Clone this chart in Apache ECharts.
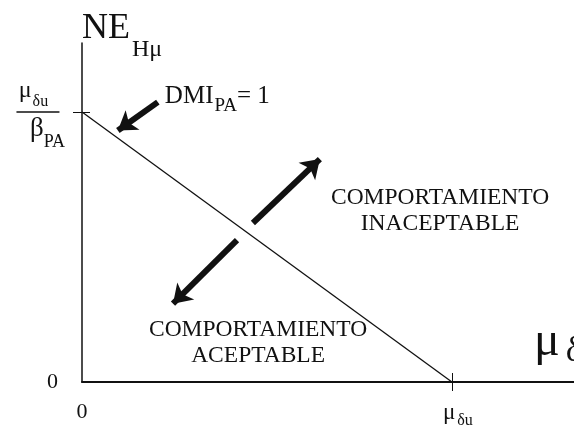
<!DOCTYPE html>
<html>
<head>
<meta charset="utf-8">
<script src="https://cdn.jsdelivr.net/npm/echarts@6/dist/echarts.min.js"></script>
<style>
  html, body { margin: 0; padding: 0; background: #fff; }
  #chart { width: 574px; height: 428px; }
</style>
</head>
<body>
<div id="chart"></div>
<script>
// Limit line: NE_Hμ = μδu/βPA at μδ = 0, falling to 0 at μδ = μδu
const muDu = 1;          // x-intercept (μδu)
const neIntercept = 1;   // y-intercept (μδu / βPA)
const limitLine = [[0, neIntercept], [muDu, 0]];
const xTickValues = [0, muDu];
const yTickValues = [0, neIntercept];
const xMax = 1.33;
const yMax = 1.256;

// Annotation arrows, [tail, head] in axis units
const arrowUp = [[0.462, 0.589], [0.643, 0.826]];
const arrowDown = [[0.419, 0.526], [0.246, 0.290]];
const arrowDmi = [[0.205, 1.037], [0.097, 0.932]];

// Region notes, anchored in axis units
const noteUnacceptable = [0.968, 0.633];
const noteAcceptable = [0.476, 0.146];
const noteDmi = [0.224, 1.052];

const SERIF = "'Liberation Serif', 'Times New Roman', serif";
const INK = '#111';

const chart = echarts.init(document.getElementById('chart'), null, { renderer: 'canvas' });

const tick = (inside, len) => ({ show: true, inside, length: len, lineStyle: { color: INK, width: 1 } });
const txt = (size, extra) => Object.assign({ fontFamily: SERIF, fontSize: size, color: INK }, extra || {});

chart.setOption({
  backgroundColor: '#fff',
  animation: false,
  grid: { left: 82, right: 0, top: 43, bottom: 46, containLabel: false, outerBoundsMode: 'none' },
  xAxis: [
    {
      type: 'value', min: 0, max: xMax, position: 'bottom',
      splitLine: { show: false },
      axisLine: { show: true, onZero: false, lineStyle: { color: INK, width: 2 } },
      axisTick: Object.assign(tick(false, 9), { customValues: [muDu] }),
      axisLabel: {
        customValues: xTickValues, margin: 19, color: INK,
        formatter: v => v === 0 ? '{z|0}' : '{m|μ}{s|δu}',
        rich: {
          z: txt(22, { verticalAlign: 'top', lineHeight: 24 }),
          m: txt(23, { verticalAlign: 'top', lineHeight: 24, padding: [0, 0, 0, 12] }),
          s: txt(16, { verticalAlign: 'top', lineHeight: 14, padding: [12, 0, 0, 2] })
        }
      },
      name: '{m|μ}{s|δ}',
      nameLocation: 'end',
      nameGap: -40,
      nameTextStyle: {
        align: 'left', verticalAlign: 'bottom', padding: [0, 0, 14, 0],
        rich: {
          m: txt(48, { verticalAlign: 'top', lineHeight: 50 }),
          s: txt(36, { verticalAlign: 'top', lineHeight: 36, padding: [16, 0, 0, 6] })
        }
      }
    },
    {
      type: 'value', min: 0, max: xMax, position: 'bottom',
      splitLine: { show: false },
      axisLine: { show: false },
      axisTick: Object.assign(tick(true, 9), { customValues: [muDu] }),
      axisLabel: { show: false }
    }
  ],
  yAxis: [
    {
      type: 'value', min: 0, max: yMax, position: 'left',
      splitLine: { show: false },
      axisLine: { show: true, onZero: false, lineStyle: { color: INK, width: 1.5 } },
      axisTick: Object.assign(tick(false, 9), { customValues: [neIntercept] }),
      axisLabel: {
        customValues: yTickValues, margin: 17,
        color: INK, align: 'right',
        formatter: v => v === 0 ? '{z|0}' : '{m|μ}{s|δu}\n{ln| }\n{b|β}{p|PA}',
        rich: {
          z: txt(22, { padding: [0, 7, 0, 0] }),
          m: txt(24, { align: 'center', verticalAlign: 'top', lineHeight: 30 }),
          s: txt(16, { align: 'center', verticalAlign: 'top', lineHeight: 14, padding: [15, 9, 0, 1] }),
          ln: { width: 43, height: 1.5, lineHeight: 6, backgroundColor: INK, align: 'center', fontSize: 2 },
          b: txt(27, { align: 'center', verticalAlign: 'top', lineHeight: 30, padding: [0, 0, 0, 19] }),
          p: txt(18, { align: 'center', verticalAlign: 'top', lineHeight: 10, padding: [18, 0, 0, 0] })
        }
      },
      name: '{n|NE}{s|Hμ}',
      nameLocation: 'end',
      nameGap: 32,
      nameTextStyle: {
        align: 'left', verticalAlign: 'top',
        rich: {
          n: txt(36, { verticalAlign: 'top', lineHeight: 38 }),
          s: txt(24, { verticalAlign: 'top', lineHeight: 22, padding: [27, 0, 0, 2] })
        }
      }
    },
    {
      type: 'value', min: 0, max: yMax, position: 'left',
      splitLine: { show: false },
      axisLine: { show: false },
      axisTick: Object.assign(tick(true, 8), { customValues: [neIntercept] }),
      axisLabel: { show: false }
    }
  ],
  series: [
    {
      type: 'line',
      data: limitLine,
      showSymbol: false,
      symbol: 'none',
      lineStyle: { color: INK, width: 1.3 },
      silent: true
    },
    {
      type: 'lines',
      coordinateSystem: 'cartesian2d',
      symbol: ['none', 'arrow'],
      symbolSize: [14, 18],
      lineStyle: { color: INK, width: 6, opacity: 1, curveness: 0 },
      data: [arrowUp, arrowDown, arrowDmi].map(c => ({ coords: c })),
      silent: true
    },
    {
      type: 'scatter',
      symbolSize: 0,
      silent: true,
      itemStyle: { color: INK, opacity: 1 },
      label: {
        show: true, position: 'inside', color: INK, fontFamily: SERIF, opacity: 1,
        textBorderWidth: 0, textShadowBlur: 0
      },
      data: [
        {
          value: noteUnacceptable,
          label: { formatter: 'COMPORTAMIENTO\nINACEPTABLE', color: INK, fontSize: 23.5, lineHeight: 26, align: 'center' }
        },
        {
          value: noteAcceptable,
          label: { formatter: 'COMPORTAMIENTO\nACEPTABLE', color: INK, fontSize: 23.5, lineHeight: 26, align: 'center' }
        },
        {
          value: noteDmi,
          label: {
            formatter: '{a|DMI}{s|PA}{a|= 1}', align: 'left', color: INK,
            rich: {
              a: txt(25, { verticalAlign: 'top', lineHeight: 28 }),
              s: txt(19, { verticalAlign: 'top', lineHeight: 18, padding: [12, 0, 0, 1] })
            }
          }
        }
      ]
    }
  ]
});
</script>
</body>
</html>
